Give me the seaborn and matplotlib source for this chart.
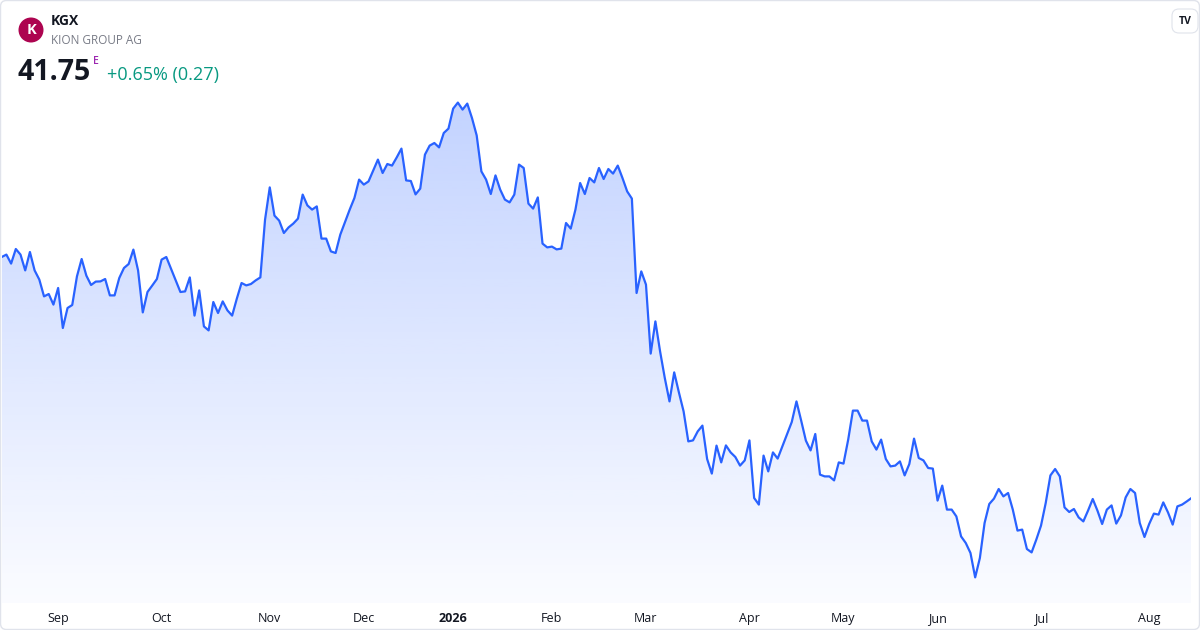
import matplotlib
matplotlib.use("Agg")
import matplotlib.pyplot as plt
from matplotlib.patches import FancyBboxPatch, Circle
from matplotlib.transforms import IdentityTransform
import seaborn as sns
import pandas as pd
import numpy as np

""" 0. data """
ticker_symbol = "KGX"
company_name = "KION GROUP AG"
last_price = "41.75"
change_text = "+0.65% (0.27)"

start_date = "2025-08-14"
# Xetra closing days inside the window
holidays = ["2025-12-24", "2025-12-25", "2025-12-26", "2025-12-31",
            "2026-01-01", "2026-04-03", "2026-04-06", "2026-05-01"]

close = [
    53.80, 53.92, 53.47, 54.20, 53.92, 53.13, 54.05, 53.13, 52.67, 51.83,
    51.95, 51.42, 52.25, 50.25, 51.25, 51.40, 52.83, 53.70, 52.87, 52.40,
    52.57, 52.58, 52.70, 51.88, 51.88, 52.75, 53.25, 53.45, 54.17, 53.13,
    51.03, 52.05, 52.37, 52.70, 53.67, 53.80, 53.22, 52.63, 52.05, 52.08,
    52.78, 50.87, 52.13,
    50.33, 50.13, 51.55, 51.00, 51.58, 51.13, 50.87, 51.72, 52.50, 52.38,
    52.45, 52.63, 52.78, 55.67, 57.28, 55.87, 55.62, 55.00, 55.28, 55.47,
    55.72, 56.92, 56.38, 56.17, 56.33, 54.72, 54.72, 54.08, 54.00, 54.92,
    55.55, 56.17, 56.75, 57.67, 57.42, 57.58, 58.12, 58.67, 58.00, 58.45,
    58.37,
    58.78, 59.22, 57.63, 57.60, 56.93, 57.22, 58.92, 59.37, 59.50, 59.28,
    60.00, 60.22, 61.22, 61.52, 61.17, 61.47, 60.75, 59.88, 58.08, 57.67,
    56.95, 57.88, 57.17, 56.67, 56.53, 56.92, 58.42, 58.25, 56.47, 56.22,
    56.78, 54.47, 54.28, 54.32, 54.18, 54.22, 55.50, 55.22, 56.17, 57.50,
    56.95, 57.75,
    57.53, 58.25, 57.70, 58.20, 57.97, 58.37, 57.75, 57.08, 56.72, 52.00,
    53.08, 52.42, 48.97, 50.58, 49.08, 47.75, 46.58, 48.03, 47.03, 46.08,
    44.58, 44.63, 45.08, 45.37, 43.70, 42.97, 44.37, 43.53, 44.38, 44.03,
    43.80, 43.37, 43.63, 44.63, 41.75, 41.42, 43.87, 43.08, 44.03, 43.72,
    44.33,
    44.95, 45.55, 46.58, 45.62, 44.62, 44.13, 44.95, 42.92, 42.83, 42.83,
    42.63, 43.53, 43.47, 44.67, 46.12, 46.12, 45.62, 45.62, 44.58, 44.17,
    44.67, 43.70, 43.33, 43.37, 43.58, 42.88, 43.45, 44.72, 43.75, 43.63,
    43.25, 43.22, 41.62, 42.37, 41.17, 41.17, 40.83, 39.83, 39.50, 39.00,
    37.78, 38.75,
    40.50, 41.45, 41.72, 42.20, 41.83, 42.00, 41.17, 40.12, 40.17, 39.20,
    39.03, 39.67, 40.37, 41.50, 42.88, 43.20, 42.83, 41.28, 41.05, 41.20,
    40.78, 40.58, 41.12, 41.70, 41.12, 40.45, 41.17, 41.38, 40.47, 40.88,
    41.78, 42.20, 42.00, 40.50, 39.80, 40.45, 40.97, 40.92, 41.53, 41.03,
    40.42, 41.33, 41.42, 41.58, 41.75,
]

dates = pd.bdate_range(start=start_date, periods=len(close), freq="C", holidays=holidays)
df = pd.DataFrame({"bar": np.arange(len(close)), "date": dates, "close": close})

# first bar of every month (skip the partial first month)
month_start = df.groupby(df.date.dt.to_period("M"))["bar"].min().iloc[1:]
tick_pos = list(month_start.values)
tick_lab = [str(p.year) if p.month == 1 else p.strftime("%b") for p in month_start.index]

""" 1. figure """
sns.set_style("white")
plt.rcParams["font.family"] = ["Open Sans", "DejaVu Sans"]

W, H = 1200, 630
fig = plt.figure(figsize=(W / 100, H / 100), dpi=100)
ax = fig.add_axes([1.7 / W, 27 / H, (1191.5 - 1.7) / W, 603 / H])
ax.patch.set_alpha(0)

y_bottom, y_top = 36.5, 66.65
n = len(df)

# gradient area under the line
grad = np.zeros((256, 1, 4))
grad[..., 0] = 41 / 255
grad[..., 1] = 98 / 255
grad[..., 2] = 1.0
grad[:, 0, 3] = np.linspace(0.28, 0.02, 256)
im = ax.imshow(grad, extent=[0, n - 1, y_bottom, df.close.max()], aspect="auto",
               origin="upper", zorder=1, interpolation="bilinear")
area = ax.fill_between(df.bar, df.close, y_bottom, facecolor="none", edgecolor="none")
im.set_clip_path(area.get_paths()[0], transform=ax.transData)

sns.lineplot(data=df, x="bar", y="close", color="#2962ff", linewidth=1.6, ax=ax, zorder=3)

ax.set_xlim(0, n - 1)
ax.set_ylim(y_bottom, y_top)
ax.set_xlabel("")
ax.set_ylabel("")
ax.set_yticks([])
for s in ax.spines.values():
    s.set_visible(False)
ax.set_xticks(tick_pos)
ax.set_xticklabels(tick_lab, fontsize=9, color="#131722")
for lab in ax.get_xticklabels():
    if lab.get_text() == "2026":
        lab.set_fontweight("bold")
ax.tick_params(axis="x", length=0, pad=6.5)

""" 2. header """
def px(x, y):
    return x / W, 1 - y / H

fig.add_artist(Circle((31, H - 30), 12.5, transform=IdentityTransform(),
                      facecolor="#ad0450", edgecolor="none"))
fig.text(*px(31, 30), "K", color="white", fontsize=10.5, fontweight="bold", ha="center", va="center")
fig.text(*px(51, 21), ticker_symbol, color="#131722", fontsize=10, fontweight="bold", ha="left", va="center")
fig.text(*px(51, 41), company_name, color="#787b86", fontsize=8.5, ha="left", va="center")
fig.text(*px(17, 72), last_price, color="#131722", fontsize=20.5, fontweight="bold", ha="left", va="center")
fig.text(*px(93, 61), "E", color="#9c27b0", fontsize=7.5, fontweight="semibold", ha="left", va="center")
fig.text(*px(107, 75), change_text, color="#089981", fontsize=13, ha="left", va="center")

# TradingView badge
fig.add_artist(FancyBboxPatch((1172, H - 33), 26, 24, boxstyle="round,pad=0,rounding_size=7",
                              transform=IdentityTransform(), facecolor="white",
                              edgecolor="#e0e3eb", linewidth=0.8))
fig.text(*px(1185, 21), "TV", color="#131722", fontsize=7.5, fontweight="bold", ha="center", va="center")

# outer card border
fig.add_artist(FancyBboxPatch((0.5, 0.5), W - 1, H - 1, boxstyle="round,pad=0,rounding_size=6",
                              transform=IdentityTransform(), facecolor="none",
                              edgecolor="#e0e3eb", linewidth=1))

plt.savefig("out.png", dpi=100)
